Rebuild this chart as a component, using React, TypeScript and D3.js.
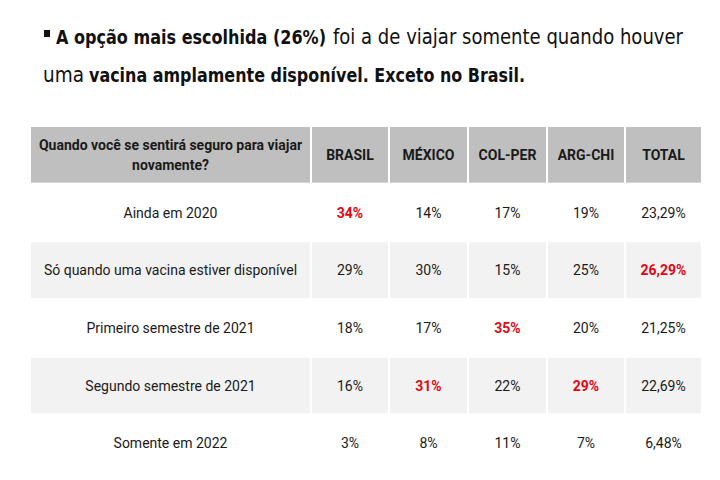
import React from "react";
import * as d3 from "d3";

const columns = ["BRASIL", "MÉXICO", "COL-PER", "ARG-CHI", "TOTAL"];
const headerLabel = ["Quando você se sentirá seguro para viajar", "novamente?"];
const rowLabels = [
  "Ainda em 2020",
  "Só quando uma vacina estiver disponível",
  "Primeiro semestre de 2021",
  "Segundo semestre de 2021",
  "Somente em 2022",
];
const values = [
  ["34%", "14%", "17%", "19%", "23,29%"],
  ["29%", "30%", "15%", "25%", "26,29%"],
  ["18%", "17%", "35%", "20%", "21,25%"],
  ["16%", "31%", "22%", "29%", "22,69%"],
  ["3%", "8%", "11%", "7%", "6,48%"],
];
const highlights = [
  [true, false, false, false, false],
  [false, false, false, false, true],
  [false, false, true, false, false],
  [false, true, false, true, false],
  [false, false, false, false, false],
];

const W = 720;
const H = 480;
const tableFont = "Roboto, 'Liberation Sans', sans-serif";
const titleFont = "'DejaVu Sans Condensed', 'DejaVu Sans', sans-serif";

export default function App() {
  const colEdges = [31, 312, 390, 469, 548, 626, 703];
  const x = d3.scaleOrdinal<number, number>().domain(d3.range(7)).range(colEdges);
  const y = d3.scaleLinear().domain([0, 6]).range([127, 473]);
  const gap = 2;
  const rowH = (y(1) - y(0)) - gap;
  const fs = 14;

  return (
    <div style={{ position: "absolute", left: 0, top: 0 }}>
      <svg width={W} height={H} style={{ display: "block", background: "#fff" }}>
        <rect x={0} y={0} width={W} height={H} fill="#fff" />
        {/* title */}
        <rect x={44} y={30} width={6} height={7} fill="#111" />
        <text x={56} y={44} fontFamily={titleFont} fontSize={20} fontWeight="bold" fill="#111" textLength={270} lengthAdjust="spacingAndGlyphs">
          A opção mais escolhida (26%)
        </text>
        <text x={333} y={44} fontFamily={titleFont} fontSize={20.5} fill="#111" textLength={350} lengthAdjust="spacingAndGlyphs">
          foi a de viajar somente quando houver
        </text>
        <text x={43} y={82} fontFamily={titleFont} fontSize={20.5} fill="#111">
          uma
        </text>
        <text x={89} y={82} fontFamily={titleFont} fontSize={20} fontWeight="bold" fill="#111" textLength={436} lengthAdjust="spacingAndGlyphs">
          vacina amplamente disponível. Exceto no Brasil.
        </text>

        {/* header */}
        {d3.range(6).map((c) => (
          <rect key={"h" + c} x={x(c)} y={y(0)} width={x(c + 1) - x(c) - gap} height={rowH} fill="#bfbfbf" />
        ))}
        <text x={(x(0) + x(1) - gap) / 2} y={y(0) + rowH / 2 - 5} textAnchor="middle" fontFamily={tableFont} fontWeight="bold" fontSize={fs} fill="#1a1a1a">
          {headerLabel[0]}
        </text>
        <text x={(x(0) + x(1) - gap) / 2} y={y(0) + rowH / 2 + 15} textAnchor="middle" fontFamily={tableFont} fontWeight="bold" fontSize={fs} fill="#1a1a1a">
          {headerLabel[1]}
        </text>
        {columns.map((c, i) => (
          <text key={c} x={(x(i + 1) + x(i + 2) - gap) / 2} y={y(0) + rowH / 2 + 5} textAnchor="middle" fontFamily={tableFont} fontWeight="bold" fontSize={fs} fill="#1a1a1a">
            {c}
          </text>
        ))}

        {/* rows */}
        {rowLabels.map((label, r) => (
          <g key={label}>
            {r % 2 === 1 &&
              d3.range(6).map((c) => (
                <rect key={c} x={x(c)} y={y(r + 1)} width={x(c + 1) - x(c) - gap} height={rowH} fill="#f2f2f2" />
              ))}
            <text x={(x(0) + x(1) - gap) / 2} y={y(r + 1) + rowH / 2 + 5} textAnchor="middle" fontFamily={tableFont} fontSize={fs} fill="#1a1a1a">
              {label}
            </text>
            {values[r].map((v, c) => (
              <text
                key={c}
                x={(x(c + 1) + x(c + 2) - gap) / 2}
                y={y(r + 1) + rowH / 2 + 5}
                textAnchor="middle"
                fontFamily={tableFont}
                fontSize={fs}
                fontWeight={highlights[r][c] ? "bold" : "normal"}
                fill={highlights[r][c] ? "#e30613" : "#1a1a1a"}
              >
                {v}
              </text>
            ))}
          </g>
        ))}
      </svg>
    </div>
  );
}
